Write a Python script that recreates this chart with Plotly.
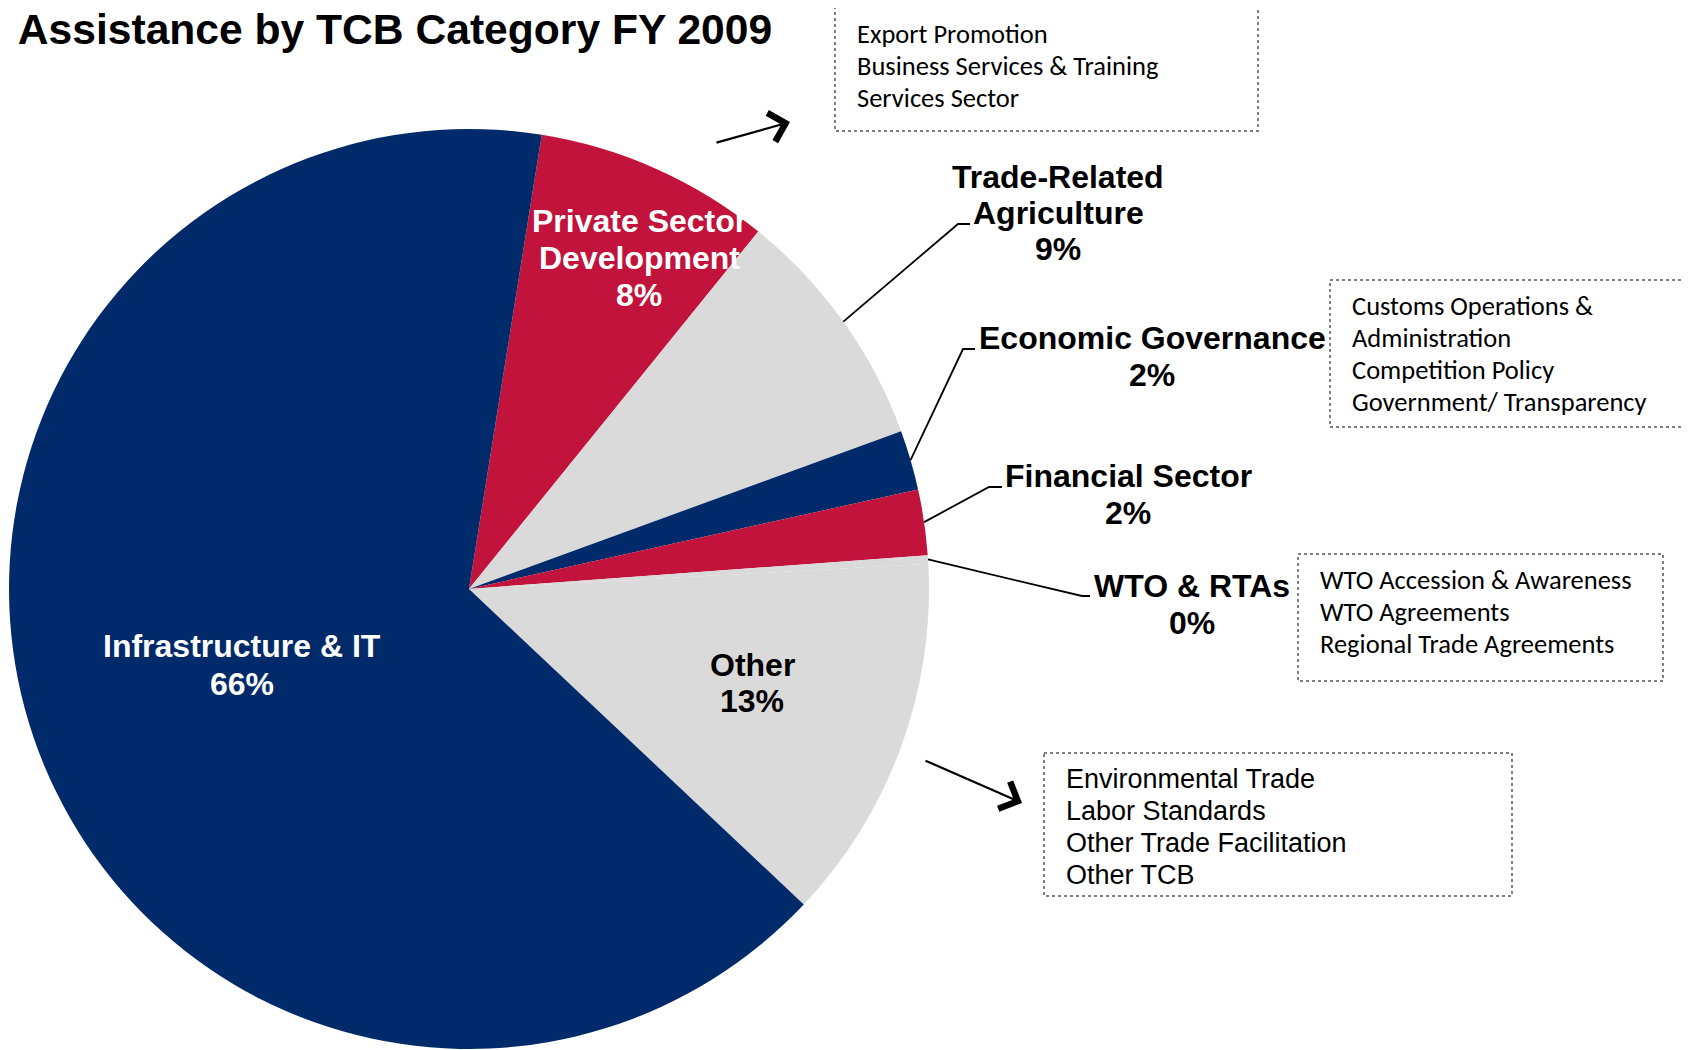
import math
import plotly.graph_objects as go

# TCB categories, listed clockwise starting from the top of the pie
categories = ["Private Sector Development", "Trade-Related Agriculture", "Economic Governance",
              "Financial Sector", "WTO & RTAs", "Other", "Infrastructure & IT"]
label_text = ["Private Sector<br>Development", "Trade-Related<br>Agriculture", "Economic Governance",
              "Financial Sector", "WTO & RTAs", "Other", "Infrastructure & IT"]
values = [8.3, 8.6, 2.1, 2.3, 0.3, 12.9, 65.5]

# sub-category boxes
box_export = ["Export Promotion", "Business Services & Training", "Services Sector"]
box_governance = ["Customs Operations &", "Administration", "Competition Policy", "Government/ Transparency"]
box_wto = ["WTO Accession & Awareness", "WTO Agreements", "Regional Trade Agreements"]
box_other = ["Environmental Trade", "Labor Standards", "Other Trade Facilitation", "Other TCB"]

NAVY = "#002a6a"
RED = "#c1133b"
GRAY = "#dadada"
slice_colors = [RED, GRAY, NAVY, RED, GRAY, GRAY, NAVY]

# page is 1692x1050, the browser puts the figure 8px in from the top-left
OFF = 8
W, H = 1692 - OFF, 1050 - OFF
CX, CY, R = 469, 589, 460
START = 9.1  # degrees clockwise from 12 o'clock

ARIAL = "Arial, 'Liberation Sans', sans-serif"
CALIBRI = "Calibri, Carlito, Lato, sans-serif"


def px(x):
    return (x - OFF) / W


def py(y):
    return 1 - (y - OFF) / H


fig = go.Figure()

fig.add_trace(go.Pie(
    labels=categories,
    values=values,
    sort=False,
    direction="clockwise",
    rotation=START,
    marker=dict(colors=slice_colors, line=dict(width=0)),
    textinfo="none",
    hoverinfo="label+percent",
    showlegend=False,
    domain=dict(x=[px(CX - R), px(CX + R)], y=[py(CY + R), py(CY - R)]),
))

total = sum(values)
percent = [round(v / total * 100) for v in values]

# label placement: centre x, first line y, line step, colour, leader (elbow, end) or None
placement = {
    "Private Sector Development": (639, 221, 37, "white", None),
    "Trade-Related Agriculture": (1058, 177, 36, "black", ((958, 224), (970, 224))),
    "Economic Governance": (1152, 338, 37, "black", ((963, 349), (975, 349))),
    "Financial Sector": (1128, 476, 37, "black", ((989, 487), (1002, 487))),
    "WTO & RTAs": (1192, 586, 37, "black", ((1082, 596), (1090, 596))),
    "Other": (752, 665, 36, "black", None),
    "Infrastructure & IT": (242, 646, 38, "white", None),
}

annotations = []
shapes = []


def add_lines(x, y0, step, lines, size, color, family, anchor="center", bold=False):
    for k, line in enumerate(lines):
        txt = "<b>" + line + "</b>" if bold else line
        annotations.append(dict(
            x=px(x), y=py(y0 + k * step), xref="paper", yref="paper",
            text=txt, showarrow=False, xanchor=anchor, yanchor="middle",
            font=dict(family=family, size=size, color=color),
        ))


cum = 0
for name, lab, v, p in zip(categories, label_text, values, percent):
    mid = math.radians(START + 360 * (cum + v / 2) / total)
    cum += v
    x, y0, step, color, leader = placement[name]
    add_lines(x, y0, step, lab.split("<br>") + [str(p) + "%"], 32, color, ARIAL, bold=True)
    if leader:
        sx = CX + R * math.sin(mid)
        sy = CY - R * math.cos(mid)
        (ex, ey), (fx, fy) = leader
        shapes.append(dict(
            type="path", xref="paper", yref="paper",
            path="M %f,%f L %f,%f L %f,%f" % (px(sx), py(sy), px(ex), py(ey), px(fx), py(fy)),
            line=dict(color="black", width=1.8),
        ))

# dotted boxes with sub-categories
boxes = [
    (box_export, (835, 7, 1258, 131), 855, 34, 32, 26.5, CALIBRI),
    (box_governance, (1330, 280, 1720, 427), 1350, 306, 32, 26.5, CALIBRI),
    (box_wto, (1298, 554, 1663, 681), 1318, 580, 32, 26.5, CALIBRI),
    (box_other, (1044, 753, 1512, 896), 1064, 779, 32, 27, ARIAL),
]
for lines, (x0, y0, x1, y1), tx, ty, step, size, fam in boxes:
    shapes.append(dict(
        type="rect", xref="paper", yref="paper",
        x0=px(x0), y0=py(y0), x1=px(x1), y1=py(y1),
        line=dict(color="#7f7f7f", width=2, dash="dot"),
    ))
    add_lines(tx, ty, step, lines, size, "black", fam, anchor="left")

# arrows pointing at the boxes
for (tx, ty), (hx, hy) in [((715, 143), (790, 122)), ((924, 760), (1022, 803))]:
    annotations.append(dict(
        x=px(hx), y=py(hy), xref="paper", yref="paper",
        ax=tx - hx, ay=ty - hy, text="", showarrow=True,
        arrowhead=4, arrowsize=2.6, arrowwidth=2.2, arrowcolor="black", standoff=0,
    ))

# title (runs off the left edge like the original slide)
annotations.append(dict(
    x=px(774), y=py(29), xref="paper", yref="paper",
    text="<b>TCB Assistance by TCB Category FY 2009</b>", showarrow=False,
    xanchor="right", yanchor="middle",
    font=dict(family=ARIAL, size=42.6, color="black"),
))

fig.update_layout(
    width=W, height=H,
    margin=dict(l=0, r=0, t=0, b=0),
    paper_bgcolor="white",
    plot_bgcolor="white",
    annotations=annotations,
    shapes=shapes,
)

fig.write_html("out.html")
